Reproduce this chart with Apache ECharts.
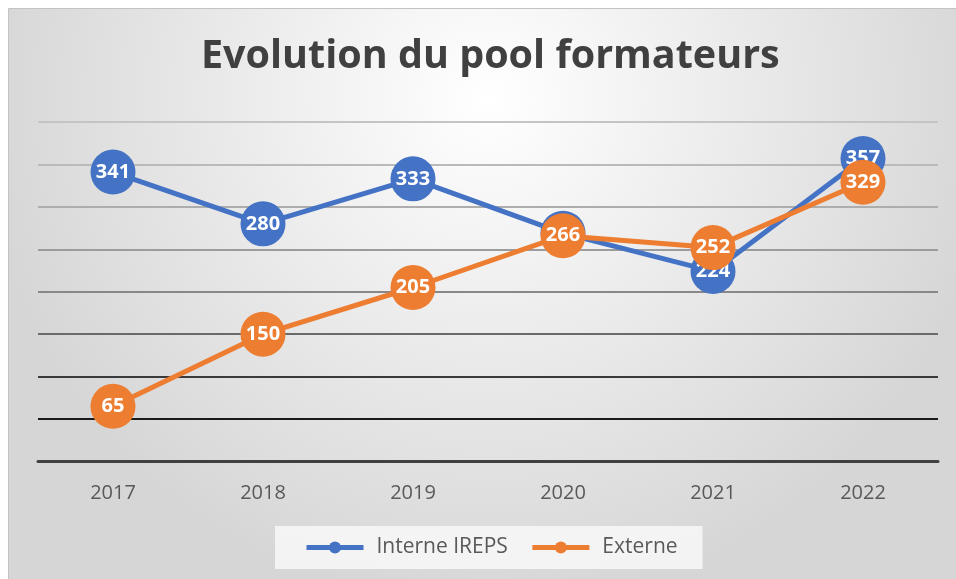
<!DOCTYPE html>
<html>
<head>
<meta charset="utf-8">
<script src="https://cdn.jsdelivr.net/npm/echarts@6/dist/echarts.min.js"></script>
<style>
html,body{margin:0;padding:0;background:#fff;}
#c{width:956px;height:579px;}
</style>
</head>
<body>
<div id="c"></div>
<script>
const categories = ['2017', '2018', '2019', '2020', '2021', '2022'];
const interneValues = [341, 280, 333, 269, 224, 357];
const externeValues = [65, 150, 205, 266, 252, 329];
const seriesNames = ['Interne IREPS', 'Externe'];
const titleText = 'Evolution du pool formateurs';

const chart = echarts.init(document.getElementById('c'), null, {renderer: 'canvas'});
const FONT = '"Open Sans", Lato, sans-serif';

function lineSeries(name, data, color, z) {
  return {
    name: name,
    type: 'line',
    data: data,
    z: z,
    symbol: 'circle',
    symbolSize: 45,
    lineStyle: {color: color, width: 5},
    itemStyle: {color: color},
    label: {
      show: true,
      position: 'inside',
      color: '#fff',
      fontFamily: FONT,
      fontWeight: 'bold',
      fontSize: 20
    },
    emphasis: {disabled: true},
    animation: false
  };
}

chart.setOption({
  animation: false,
  graphic: [{
    type: 'rect',
    z: -10,
    silent: true,
    shape: {x: 8.5, y: 8.5, width: 960, height: 600},
    style: {
      stroke: '#c3c3c3',
      lineWidth: 1,
      fill: new echarts.graphic.RadialGradient(0.5, 0.15, 0.85, [
        {offset: 0, color: '#ffffff'},
        {offset: 1, color: '#d6d6d6'}
      ])
    }
  }],
  title: {
    text: titleText,
    left: 196,
    top: 32,
    textStyle: {
      fontFamily: FONT,
      fontWeight: 'bold',
      fontSize: 39.5,
      color: '#404040'
    }
  },
  legend: {
    bottom: 10,
    left: 275,
    data: seriesNames,
    itemWidth: 57,
    itemHeight: 15,
    itemGap: 22,
    padding: [11, 25, 11, 29],
    backgroundColor: 'rgba(246,246,246,0.9)',
    lineStyle: {width: 5},
    textStyle: {
      fontFamily: FONT,
      fontSize: 21,
      color: '#595959',
      padding: [0, 0, 0, 8]
    }
  },
  grid: {left: 38, right: 18, top: 122, bottom: 117.5, containLabel: false},
  xAxis: {
    type: 'category',
    data: categories,
    boundaryGap: true,
    axisLine: {show: true, lineStyle: {color: '#404040', width: 3}},
    axisTick: {show: false},
    axisLabel: {
      fontFamily: FONT,
      fontSize: 20,
      color: '#595959',
      margin: 22
    }
  },
  yAxis: {
    type: 'value',
    min: 0,
    max: 400,
    interval: 50,
    axisLabel: {show: false},
    axisLine: {show: false},
    axisTick: {show: false},
    splitLine: {
      show: true,
      lineStyle: {
        width: 2,
        color: ['#404040', '#1a1a1a', '#3a3a3a', '#6a6a6a', '#888888', '#9c9c9c', '#adadad', '#bababa', '#c4c4c4']
      }
    }
  },
  series: [
    lineSeries(seriesNames[0], interneValues, '#4472C4', 2),
    lineSeries(seriesNames[1], externeValues, '#ED7D31', 3)
  ]
});
</script>
</body>
</html>
